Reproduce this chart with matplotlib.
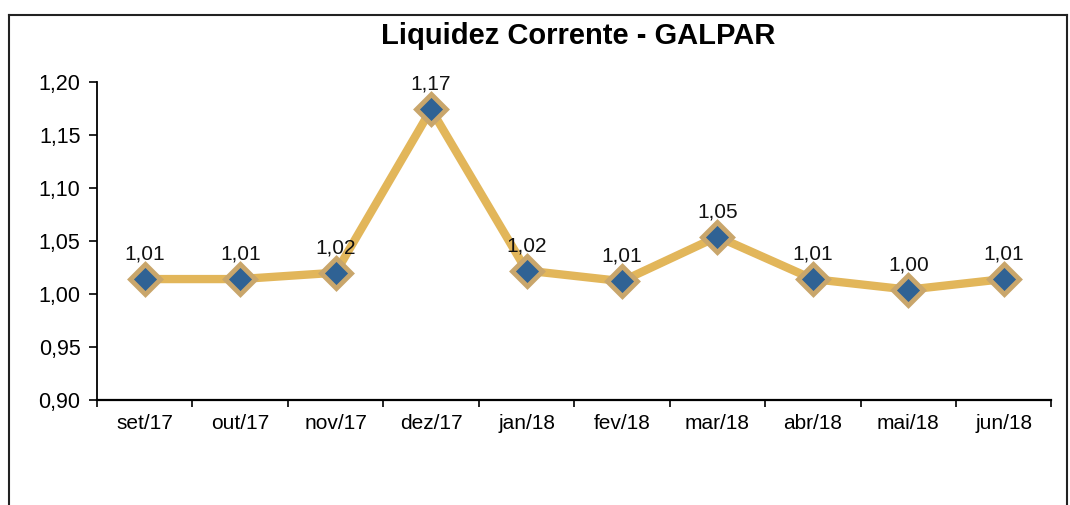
import matplotlib
matplotlib.use('Agg')
import matplotlib.pyplot as plt
from matplotlib.lines import Line2D
from matplotlib.ticker import FuncFormatter

plt.rcParams['font.family'] = ['Liberation Sans', 'DejaVu Sans']

# dados
meses = ['set/17', 'out/17', 'nov/17', 'dez/17', 'jan/18',
         'fev/18', 'mar/18', 'abr/18', 'mai/18', 'jun/18']
liquidez = [1.014, 1.014, 1.020, 1.174, 1.022, 1.012, 1.054, 1.014, 1.004, 1.014]

fig = plt.figure(figsize=(10.7, 5.05), dpi=100)
ax = fig.add_axes([0.0907, 0.208, 0.892, 0.630])

x = list(range(len(meses)))
ax.plot(x, liquidez, color='#E2B65A', linewidth=6, zorder=2,
        marker='D', markersize=15, markerfacecolor='#2F6294',
        markeredgecolor='#C9A66B', markeredgewidth=3.5)

for xi, v in zip(x, liquidez):
    ax.annotate(f'{v:.2f}'.replace('.', ','), (xi, v), xytext=(0, 18),
                textcoords='offset points', ha='center', va='center',
                fontsize=15, color='#111111')

ax.set_xlim(-0.5, len(meses) - 0.5)
ax.set_ylim(0.90, 1.20)
ax.set_yticks([0.90, 0.95, 1.00, 1.05, 1.10, 1.15, 1.20])
ax.yaxis.set_major_formatter(FuncFormatter(lambda v, p: f'{v:.2f}'.replace('.', ',')))

ax.set_xticks(x)
ax.set_xticklabels(meses)
ax.set_xticks([i - 0.5 for i in range(len(meses) + 1)], minor=True)
ax.tick_params(axis='x', which='major', length=0, pad=10, labelsize=15)
ax.tick_params(axis='x', which='minor', length=5, width=1.2, direction='out')
ax.tick_params(axis='y', length=6, width=1.2, direction='out', pad=6, labelsize=15.5)

ax.spines['top'].set_visible(False)
ax.spines['right'].set_visible(False)
ax.spines['left'].set_linewidth(1.3)
ax.spines['bottom'].set_linewidth(1.6)

fig.text(0.540, 0.929, 'Liquidez Corrente - GALPAR', ha='center', va='center',
         fontsize=21, fontweight='bold')

# moldura do gráfico
for xs, ys in [([0.008, 0.008], [0.0, 0.97]),
               ([0.008, 0.997], [0.97, 0.97]),
               ([0.997, 0.997], [0.0, 0.97])]:
    fig.add_artist(Line2D(xs, ys, color='#222222', linewidth=1.5,
                          transform=fig.transFigure))

fig.savefig('out.png', dpi=100)
